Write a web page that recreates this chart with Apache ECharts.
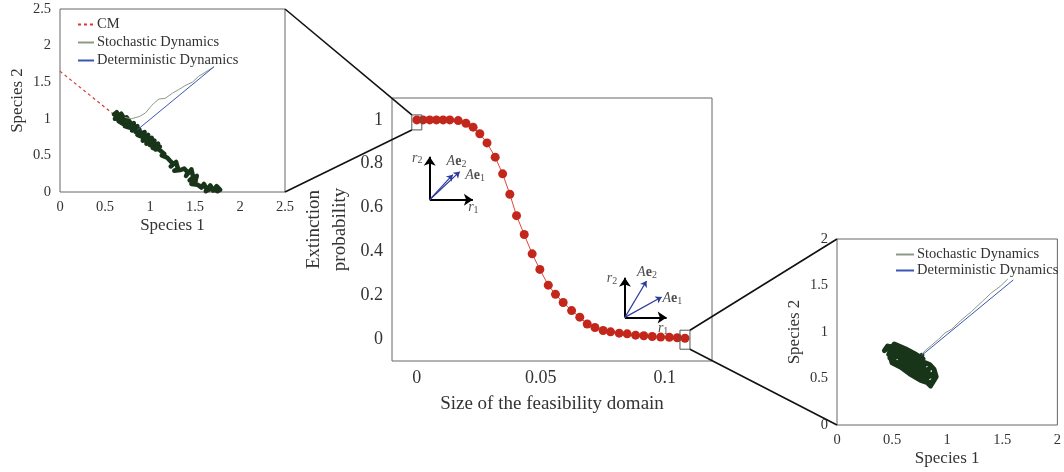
<!DOCTYPE html>
<html><head><meta charset="utf-8">
<script src="https://cdn.jsdelivr.net/npm/echarts@6/dist/echarts.min.js"></script>
<style>html,body{margin:0;padding:0;background:#fff}#c{width:1064px;height:472px}</style>
</head><body><div id="c"></div>
<script>
// ---- main panel: extinction probability vs size of feasibility domain ----
const feasSize = [0, 0.0025, 0.0052, 0.0079, 0.0106, 0.0133, 0.0167, 0.0198, 0.0227, 0.0254, 0.0283, 0.0316,
  0.0346, 0.0375, 0.0402, 0.0433, 0.0465, 0.0496, 0.0530, 0.0559, 0.0590, 0.0624, 0.0657, 0.0687,
  0.0718, 0.0751, 0.0781, 0.0816, 0.0848, 0.0882, 0.0915, 0.0949, 0.0983, 0.1018, 0.1050, 0.1081];
const extinctionProb = [1.0, 1.0, 1.0, 1.0, 1.0, 1.0, 0.997, 0.985, 0.967, 0.937, 0.895, 0.830,
  0.754, 0.661, 0.563, 0.477, 0.389, 0.318, 0.246, 0.204, 0.167, 0.130, 0.100, 0.069,
  0.053, 0.039, 0.033, 0.027, 0.024, 0.018, 0.015, 0.012, 0.009, 0.008, 0.006, 0.004];
const mainXTicks = [0, 0.05, 0.1];
const mainYTicks = [0, 0.2, 0.4, 0.6, 0.8, 1];

// vector diagrams (annotations inside the main panel), data coordinates
const axisArrows = [
  [[0.0052, 0.636], [0.0052, 0.832]], [[0.0052, 0.636], [0.0226, 0.636]],
  [[0.0839, 0.099], [0.0839, 0.280]], [[0.0839, 0.099], [0.1007, 0.099]]
];
const vecArrows = [
  [[0.0052, 0.636], [0.0145, 0.750]], [[0.0052, 0.636], [0.0173, 0.764]],
  [[0.0839, 0.099], [0.0926, 0.265]], [[0.0839, 0.099], [0.0987, 0.192]]
];
const vecLabels = [
  [0.0002, 0.827, 'r2'], [0.0160, 0.812, 'Ae2'], [0.0235, 0.748, 'Ae1'], [0.0228, 0.603, 'r1'],
  [0.0787, 0.276, 'r2'], [0.0928, 0.306, 'Ae2'], [0.1030, 0.185, 'Ae1'], [0.0993, 0.051, 'r1']
];

// ---- left inset (small feasibility domain) ----
const cmLine = [[0, 1.65], [1.67, 0]];
const stochPath1 = [[1.71, 1.71], [1.62, 1.64], [1.54, 1.58], [1.47, 1.50], [1.40, 1.46], [1.32, 1.40],
  [1.25, 1.35], [1.17, 1.28], [1.10, 1.27], [1.05, 1.22], [1.01, 1.17], [0.95, 1.08], [0.88, 1.03],
  [0.79, 1.00], [0.72, 1.02]];
const detPath1 = [[1.71, 1.71], [0.86, 0.85]];
const cloud1 = [[0.60, 1.06], [0.63, 1.09], [0.66, 1.02], [0.61, 1.00], [0.68, 1.07], [0.72, 0.99],
  [0.65, 0.97], [0.70, 0.93], [0.74, 1.02], [0.78, 0.95], [0.72, 0.90], [0.77, 0.88], [0.82, 0.94],
  [0.80, 0.84], [0.86, 0.90], [0.84, 0.82], [0.88, 0.86], [0.90, 0.76], [0.86, 0.78], [0.94, 0.82],
  [0.92, 0.70], [0.98, 0.78], [0.96, 0.66], [1.02, 0.74], [1.00, 0.64], [0.94, 0.74], [1.05, 0.70],
  [1.03, 0.60], [1.09, 0.66], [1.06, 0.58], [1.11, 0.62], [1.02, 0.68], [0.97, 0.72], [1.08, 0.60],
  [1.12, 0.56], [1.16, 0.52], [1.13, 0.50], [1.19, 0.47], [1.22, 0.43], [1.26, 0.38], [1.23, 0.35],
  [1.29, 0.41], [1.31, 0.32], [1.27, 0.29], [1.34, 0.30], [1.38, 0.32], [1.42, 0.27], [1.40, 0.22],
  [1.46, 0.31], [1.48, 0.20], [1.44, 0.16], [1.52, 0.22], [1.50, 0.13], [1.46, 0.11], [1.53, 0.10],
  [1.57, 0.06], [1.60, 0.11], [1.63, 0.03], [1.67, 0.09], [1.70, 0.02], [1.74, 0.08], [1.78, 0.03],
  [1.75, 0.01], [1.68, 0.05], [1.62, 0.01]];

// ---- right inset (large feasibility domain) ----
const stochPath2 = [[1.55, 1.57], [1.48, 1.49], [1.40, 1.42], [1.32, 1.33], [1.22, 1.22], [1.12, 1.12],
  [1.04, 1.03], [0.98, 0.99], [0.92, 0.92], [0.86, 0.86], [0.80, 0.80], [0.77, 0.76]];
const detPath2 = [[1.60, 1.56], [0.77, 0.75]];
const cloud2 = [[0.77, 0.75], [0.76, 0.72], [0.68, 0.72], [0.60, 0.80], [0.52, 0.86], [0.45, 0.82],
  [0.43, 0.80], [0.46, 0.85], [0.50, 0.83], [0.47, 0.76], [0.53, 0.80], [0.56, 0.84], [0.55, 0.74],
  [0.60, 0.79], [0.58, 0.70], [0.63, 0.76], [0.62, 0.68], [0.67, 0.74], [0.66, 0.64], [0.71, 0.71],
  [0.70, 0.61], [0.75, 0.68], [0.74, 0.58], [0.79, 0.64], [0.78, 0.55], [0.83, 0.60], [0.82, 0.51],
  [0.87, 0.55], [0.88, 0.48], [0.84, 0.45], [0.80, 0.48], [0.85, 0.42], [0.78, 0.50], [0.73, 0.54],
  [0.76, 0.60], [0.69, 0.58], [0.72, 0.65], [0.65, 0.62], [0.68, 0.69], [0.61, 0.66], [0.64, 0.73],
  [0.57, 0.69], [0.60, 0.76], [0.53, 0.73], [0.56, 0.80], [0.49, 0.78], [0.48, 0.72], [0.54, 0.67],
  [0.62, 0.62], [0.70, 0.56], [0.77, 0.52], [0.82, 0.56], [0.76, 0.64], [0.68, 0.72], [0.66, 0.78],
  [0.74, 0.72], [0.78, 0.68], [0.84, 0.65], [0.88, 0.60], [0.90, 0.52], [0.86, 0.44], [0.76, 0.48],
  [0.66, 0.55], [0.58, 0.62], [0.50, 0.67], [0.49, 0.71], [0.52, 0.87], [0.62, 0.82], [0.70, 0.77],
  [0.78, 0.71], [0.72, 0.62], [0.64, 0.70], [0.58, 0.75]];

const SERIF = '"Liberation Serif", "DejaVu Serif", serif';
const TXT = '#333';
const FRAME = '#666';

const mainData = feasSize.map((x, i) => [x, extinctionProb[i]]);

function insetAxis(idx, max, name, isY, gap) {
  return {
    type: 'value', gridIndex: idx, min: 0, max: max, interval: 0.5,
    name: name, nameLocation: 'middle', nameGap: gap,
    nameTextStyle: { fontFamily: SERIF, fontSize: 17, color: TXT },
    axisLine: { show: false }, axisTick: { show: false }, splitLine: { show: false },
    axisLabel: { fontFamily: SERIF, fontSize: 14.5, color: TXT, margin: isY ? 9 : 8 }
  };
}

const vecLabelRich = {
  i: { fontFamily: SERIF, fontStyle: 'italic', fontSize: 14, color: '#222' },
  b: { fontFamily: SERIF, fontWeight: 'bold', fontSize: 14, color: '#222' },
  s: { fontFamily: SERIF, fontSize: 10, color: '#222', verticalAlign: 'bottom', padding: [6, 0, 0, 0] }
};
function vecLabelText(t) {
  if (t[0] === 'r') return '{i|r}{s|' + t[1] + '}';
  return '{i|A}{b|e}{s|' + t[2] + '}';
}

const legendText = { fontFamily: SERIF, fontSize: 14.5, color: TXT, padding: [0, 0, 0, -2] };

const chart = echarts.init(document.getElementById('c'), null, { renderer: 'canvas' });
chart.setOption({
  animation: false,
  backgroundColor: '#fff',
  grid: [
    { left: 392, top: 98, width: 320, height: 263, show: true, borderColor: FRAME, borderWidth: 1, containLabel: false },
    { left: 60, top: 9, width: 225, height: 183, show: true, borderColor: FRAME, borderWidth: 1, containLabel: false },
    { left: 837, top: 239, width: 230, height: 186, show: true, borderColor: FRAME, borderWidth: 1, containLabel: false }
  ],
  xAxis: [
    { type: 'value', gridIndex: 0, min: -0.01, max: 0.119,
      name: 'Size of the feasibility domain', nameLocation: 'middle', nameGap: 34,
      nameTextStyle: { fontFamily: SERIF, fontSize: 19, color: TXT },
      axisLine: { show: false }, axisTick: { show: false }, splitLine: { show: false },
      axisLabel: { customValues: mainXTicks, fontFamily: SERIF, fontSize: 18, color: TXT, margin: 8 } },
    insetAxis(1, 2.5, 'Species 1', false, 25),
    insetAxis(2, 2, 'Species 1', false, 25)
  ],
  yAxis: [
    { type: 'value', gridIndex: 0, min: -0.1, max: 1.1,
      name: 'Extinction\nprobability', nameLocation: 'middle', nameGap: 39,
      nameTextStyle: { fontFamily: SERIF, fontSize: 19, color: TXT, lineHeight: 26 },
      axisLine: { show: false }, axisTick: { show: false }, splitLine: { show: false },
      axisLabel: { customValues: mainYTicks, fontFamily: SERIF, fontSize: 18, color: TXT, margin: 9 } },
    insetAxis(1, 2.5, 'Species 2', true, 34),
    insetAxis(2, 2, 'Species 2', true, 34)
  ],
  legend: [
    { left: 72, top: 12, orient: 'vertical', itemWidth: 16, itemHeight: 14, itemGap: 3,
      itemStyle: { opacity: 0 },
      data: ['CM', 'Stochastic Dynamics', 'Deterministic Dynamics'], textStyle: legendText },
    { left: 890, top: 242, orient: 'vertical', itemWidth: 18, itemHeight: 14, itemGap: 1,
      itemStyle: { opacity: 0 },
      data: ['Stochastic Dynamics', 'Deterministic Dynamics'], textStyle: legendText }
  ],
  series: [
    { type: 'line', name: 'Extinction', xAxisIndex: 0, yAxisIndex: 0, data: mainData,
      symbol: 'circle', symbolSize: 9, itemStyle: { color: '#c3271c' },
      lineStyle: { color: '#e0453b', width: 1 }, z: 5 },
    { type: 'lines', coordinateSystem: 'cartesian2d', xAxisIndex: 0, yAxisIndex: 0,
      data: axisArrows.map(c => ({ coords: c })), symbol: ['none', 'arrow'], symbolSize: 9,
      lineStyle: { color: '#000', width: 2, opacity: 1 }, z: 4 },
    { type: 'lines', coordinateSystem: 'cartesian2d', xAxisIndex: 0, yAxisIndex: 0,
      data: vecArrows.map(c => ({ coords: c })), symbol: ['none', 'arrow'], symbolSize: 6,
      lineStyle: { color: '#2b3a9c', width: 1.2, opacity: 1 }, z: 4 },
    { type: 'scatter', xAxisIndex: 0, yAxisIndex: 0, data: vecLabels, symbolSize: 0, silent: true,
      label: { show: true, position: 'inside', formatter: p => vecLabelText(p.data[2]), rich: vecLabelRich }, z: 6 },

    { type: 'line', name: 'CM', xAxisIndex: 1, yAxisIndex: 1, data: cmLine, symbol: 'none',
      lineStyle: { color: '#d63a3a', width: 1.2, type: [3, 3] }, itemStyle: { color: '#d63a3a' }, z: 2 },
    { type: 'line', name: 'cloud1', xAxisIndex: 1, yAxisIndex: 1, data: cloud1, symbol: 'none',
      lineStyle: { color: '#183519', width: 4.5, join: 'round', cap: 'round' }, z: 3 },
    { type: 'line', name: 'Stochastic Dynamics', xAxisIndex: 1, yAxisIndex: 1, data: stochPath1, symbol: 'none',
      lineStyle: { color: '#8c9a84', width: 1 }, itemStyle: { color: '#8c9a84' }, z: 4 },
    { type: 'line', name: 'Deterministic Dynamics', xAxisIndex: 1, yAxisIndex: 1, data: detPath1, symbol: 'none',
      lineStyle: { color: '#3a55b5', width: 1 }, itemStyle: { color: '#3a55b5' }, z: 4 },

    { type: 'line', name: 'cloud2', xAxisIndex: 2, yAxisIndex: 2, data: cloud2, symbol: 'none',
      lineStyle: { color: '#183519', width: 5, join: 'round', cap: 'round' }, z: 3 },
    { type: 'line', name: 'Stochastic Dynamics', xAxisIndex: 2, yAxisIndex: 2, data: stochPath2, symbol: 'none',
      lineStyle: { color: '#8c9a84', width: 1 }, itemStyle: { color: '#8c9a84' }, z: 4 },
    { type: 'line', name: 'Deterministic Dynamics', xAxisIndex: 2, yAxisIndex: 2, data: detPath2, symbol: 'none',
      lineStyle: { color: '#3a55b5', width: 1 }, itemStyle: { color: '#3a55b5' }, z: 4 }
  ]
});

// zoom boxes and connector lines, positioned from the axes' own scales
const first = chart.convertToPixel({ gridIndex: 0 }, mainData[0]);
const last = chart.convertToPixel({ gridIndex: 0 }, mainData[mainData.length - 1]);
const b1 = { x: first[0] - 5, y: first[1] - 5, w: 10, h: 15 };
const b2 = { x: last[0] - 5, y: last[1] - 8, w: 10, h: 19 };
const i1TR = chart.convertToPixel({ gridIndex: 1 }, [2.5, 2.5]);
const i1BR = chart.convertToPixel({ gridIndex: 1 }, [2.5, 0]);
const i2TL = chart.convertToPixel({ gridIndex: 2 }, [0, 2]);
const i2BL = chart.convertToPixel({ gridIndex: 2 }, [0, 0]);
const conn = { stroke: '#111', lineWidth: 1.6 };
chart.setOption({
  graphic: [
    { type: 'rect', shape: { x: b1.x, y: b1.y, width: b1.w, height: b1.h }, style: { fill: null, stroke: '#555', lineWidth: 1 }, z: 100 },
    { type: 'rect', shape: { x: b2.x, y: b2.y, width: b2.w, height: b2.h }, style: { fill: null, stroke: '#555', lineWidth: 1 }, z: 100 },
    { type: 'line', shape: { x1: i1TR[0], y1: i1TR[1], x2: b1.x, y2: b1.y }, style: conn, z: 100 },
    { type: 'line', shape: { x1: i1BR[0], y1: i1BR[1], x2: b1.x, y2: b1.y + b1.h }, style: conn, z: 100 },
    { type: 'line', shape: { x1: b2.x + b2.w, y1: b2.y, x2: i2TL[0], y2: i2TL[1] }, style: conn, z: 100 },
    { type: 'line', shape: { x1: b2.x + b2.w, y1: b2.y + b2.h, x2: i2BL[0], y2: i2BL[1] }, style: conn, z: 100 }
  ]
});
</script>
</body></html>
